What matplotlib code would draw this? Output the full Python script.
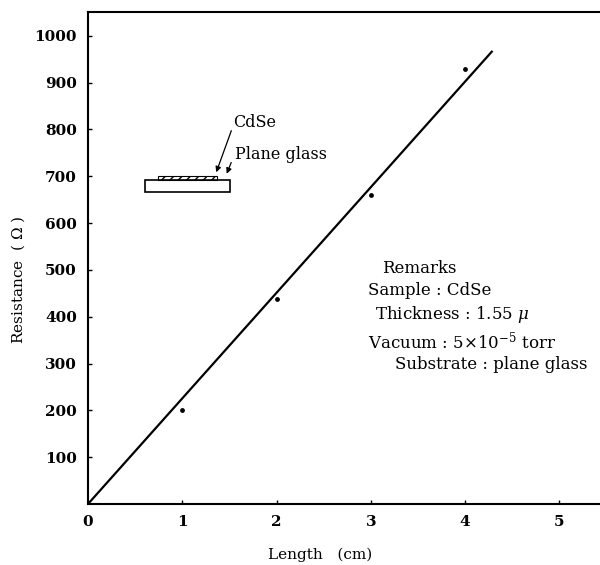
import matplotlib
matplotlib.use("Agg")
import matplotlib.pyplot as plt
from matplotlib.patches import Rectangle

# measured points (length cm, resistance ohm)
length_cm = [1.0, 2.0, 3.0, 4.0]
resistance = [200, 437, 660, 930]

# fitted straight line
fit_x = [0.0, 4.29]
fit_y = [0.0, 968.0]

x_ticks = [0, 1, 2, 3, 4, 5]
y_ticks = [100, 200, 300, 400, 500, 600, 700, 800, 900, 1000]

remarks = [
    ("Remarks", 3.12, 504),
    ("Sample : CdSe", 2.97, 457),
    ("Thickness : 1.55 $\\mu$", 3.04, 404),
    ("Vacuum : 5×10$^{-5}$ torr", 2.97, 348),
    ("Substrate : plane glass", 3.26, 297),
]

plt.rcParams["font.family"] = ["DejaVu Serif"]
plt.rcParams["mathtext.fontset"] = "dejavuserif"

fig = plt.figure(figsize=(6, 5.65), dpi=100)
ax = fig.add_axes([88 / 600, 61 / 565, 512 / 600, 492 / 565])

ax.plot(fit_x, fit_y, color="black", lw=1.6, solid_capstyle="butt")
ax.scatter(length_cm, resistance, s=6, color="black", zorder=3)

ax.set_xlim(0, 5.43)
ax.set_ylim(0, 1051)
ax.set_xticks(x_ticks)
ax.set_yticks(y_ticks)
ax.tick_params(direction="in", length=3, width=1, labelsize=11)
ax.tick_params(axis="x", pad=8)
ax.tick_params(axis="y", pad=8)
for lab in ax.get_xticklabels() + ax.get_yticklabels():
    lab.set_fontweight("bold")
ax.spines["right"].set_visible(False)
for s in ("left", "bottom", "top"):
    ax.spines[s].set_linewidth(1.5)

fig.text(320 / 600, 1 - 555 / 565, "Length   (cm)", fontsize=11,
         ha="center", va="center")
fig.text(18 / 600, 1 - 280 / 565, "Resistance  ( $\\Omega$ )", fontsize=11,
         ha="center", va="center", rotation=90)

# sample sketch: glass slide with CdSe film
ax.add_patch(Rectangle((0.60, 667), 0.906, 25, fill=False, ec="black", lw=1.2))
ax.add_patch(Rectangle((0.74, 692), 0.63, 9, fill=False, ec="black", lw=0.8,
                       hatch="////"))
ax.text(1.54, 814, "CdSe", fontsize=11.5, va="center")
ax.text(1.56, 746, "Plane glass", fontsize=11.5, va="center")
ax.annotate("", xy=(1.35, 703), xytext=(1.53, 803),
            arrowprops=dict(arrowstyle="-|>", color="black", lw=0.9,
                            mutation_scale=8))
ax.annotate("", xy=(1.46, 700), xytext=(1.53, 735),
            arrowprops=dict(arrowstyle="-|>", color="black", lw=0.9,
                            mutation_scale=8))

for txt, x, y in remarks:
    ax.text(x, y, txt, fontsize=12, va="center", ha="left")

fig.savefig("out.png", dpi=100)
